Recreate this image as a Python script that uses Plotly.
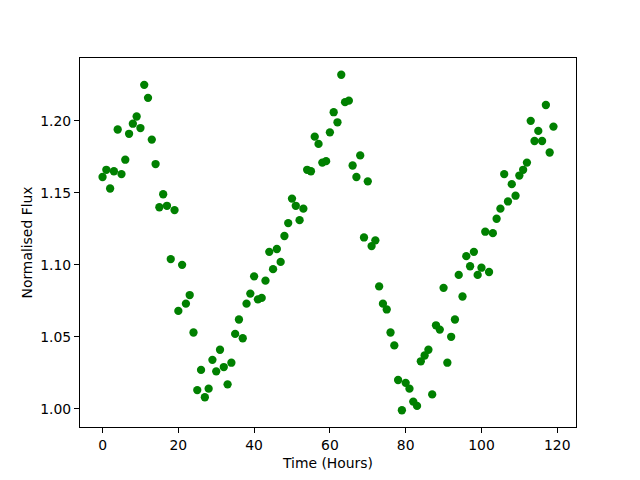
import plotly.graph_objects as go

hours = list(range(120))
flux = [
    1.161, 1.166, 1.153, 1.165, 1.194, 1.163, 1.173, 1.191, 1.198, 1.203,
    1.195, 1.225, 1.216, 1.187, 1.170, 1.140, 1.149, 1.141, 1.104, 1.138,
    1.068, 1.100, 1.073, 1.079, 1.053, 1.013, 1.027, 1.008, 1.014, 1.034,
    1.026, 1.041, 1.029, 1.017, 1.032, 1.052, 1.062, 1.049, 1.073, 1.080,
    1.092, 1.076, 1.077, 1.089, 1.109, 1.097, 1.111, 1.102, 1.120, 1.129,
    1.146, 1.141, 1.131, 1.139, 1.166, 1.165, 1.189, 1.184, 1.171, 1.172,
    1.192, 1.206, 1.199, 1.232, 1.213, 1.214, 1.169, 1.161, 1.176, 1.119,
    1.158, 1.113, 1.117, 1.085, 1.073, 1.069, 1.053, 1.044, 1.020, 0.999,
    1.018, 1.014, 1.005, 1.002, 1.033, 1.037, 1.041, 1.010, 1.058, 1.055,
    1.084, 1.032, 1.050, 1.062, 1.093, 1.078, 1.106, 1.099, 1.109, 1.093,
    1.098, 1.123, 1.095, 1.122, 1.132, 1.139, 1.163, 1.144, 1.156, 1.148,
    1.162, 1.166, 1.171, 1.200, 1.186, 1.193, 1.186, 1.211, 1.178, 1.196,
]
x_ticks = [0, 20, 40, 60, 80, 100, 120]
y_ticks = [1.00, 1.05, 1.10, 1.15, 1.20]

fig = go.Figure(go.Scatter(
    x=hours, y=flux, mode="markers",
    marker=dict(color="#008000", size=8.3, line=dict(width=0)),
))

xmin, xmax = min(hours), max(hours)
ymin, ymax = min(flux), max(flux)
xpad = (xmax - xmin) * 0.05
ypad = (ymax - ymin) * 0.05

axis_common = dict(
    showgrid=False, zeroline=False, showline=True, linecolor="black", linewidth=1,
    mirror=True, ticks="outside", ticklen=5, tickwidth=1, tickcolor="black",
    tickfont=dict(family="DejaVu Sans", size=13.9, color="black"),
)

fig.update_layout(
    width=640, height=480,
    margin=dict(l=80, r=64, t=58, b=53),
    paper_bgcolor="white", plot_bgcolor="white",
    showlegend=False,
    font=dict(family="DejaVu Sans", size=13.9, color="black"),
    xaxis=dict(range=[xmin - xpad, xmax + xpad], tickvals=x_ticks,
               title=dict(text="Time (Hours)", standoff=6,
                          font=dict(family="DejaVu Sans", size=13.9)),
               **axis_common),
    yaxis=dict(range=[ymin - ypad, ymax + ypad], tickvals=y_ticks, tickformat=".2f",
               title=dict(text="Normalised Flux", standoff=4,
                          font=dict(family="DejaVu Sans", size=13.9)),
               **axis_common),
)

fig.write_html("out.html", config={"displayModeBar": False},
               post_script="document.body.style.margin='0';document.body.style.overflow='hidden';")
